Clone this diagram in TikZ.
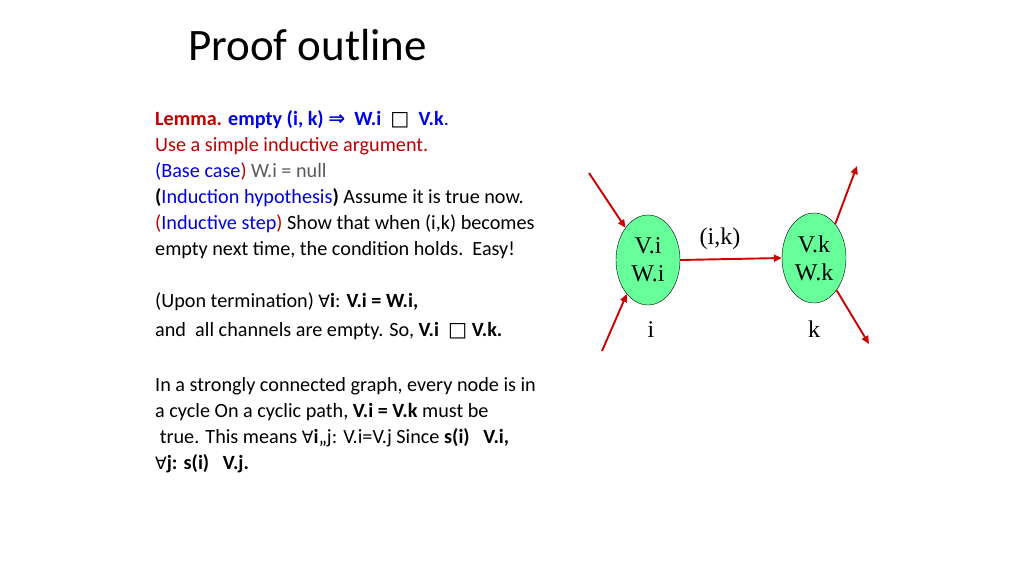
\documentclass[tikz,border=0pt]{standalone}
\usepackage{fontspec}
\setmainfont{Carlito}
\newfontfamily\tms{Liberation Serif}
\newfontfamily\dv{DejaVu Sans}
\usetikzlibrary{shapes.geometric,arrows.meta}
\definecolor{lred}{RGB}{192,0,0}
\definecolor{lblue}{RGB}{0,0,230}
\definecolor{ngreen}{RGB}{102,255,153}
\definecolor{arr}{RGB}{204,0,0}
\definecolor{gry}{RGB}{90,90,90}
\begin{document}
\begin{tikzpicture}[x=1pt,y=-1pt,
  ln/.style={anchor=base west,inner sep=0pt,font=\fontsize{20.2}{22}\selectfont},
  st/.style={ellipse,draw=black,fill=ngreen,minimum width=64pt,minimum height=90pt,inner sep=0pt,align=center,font=\tms\fontsize{24}{28}\selectfont},
  lb/.style={font=\tms\fontsize{24}{26}\selectfont,inner sep=0pt,anchor=base},
  ar/.style={draw=arr,line width=1.9pt,-{Triangle[length=8pt,width=7pt]}}]
\useasboundingbox (0,0) rectangle (1024,576);
\node[anchor=base west,inner sep=0pt,font=\fontsize{45}{48}\selectfont] (title) at (188,60) {Proof outline};
\node[ln] (l1) at (155,125) {\textbf{\color{lred}Lemma. \color{lblue}empty (i, k) {\dv⇒}\ \ W.i \ {\normalfont\dv\color{black}□}\ \ V.k}\color{lblue}.};
\node[ln,text=lred] (l2) at (155,151) {Use a simple inductive argument.};
\node[ln] (l3) at (155,177) {\color{lblue}(Base case\color{lred})\ \color{gry}W.i = null};
\node[ln] (l4) at (155,203) {\textbf{(}\color{lblue}Induction hypothesis\color{black}\textbf{)}\ Assume it is true now.};
\node[ln] (l5) at (155,229) {\color{lred}(\color{lblue}Inductive step\color{lred})\ \color{black}Show that when (i,k) becomes};
\node[ln] (l6) at (155,255) {empty next time, the condition holds.\ \ Easy!};
\node[ln] (l7) at (155,307) {(Upon termination) {\dv\fontsize{17}{19}\selectfont∀}\textbf{i}: \textbf{V.i = W.i,}};
\node[ln] (l8) at (155,336) {and\ \ all channels are empty. So, \textbf{V.i \ {\normalfont\dv□} V.k.}};
\node[ln] (l9) at (155,391) {In a strongly connected graph, every node is in};
\node[ln] (l10) at (155,417) {a cycle On a cyclic path, \textbf{V.i = V.k} must be};
\node[ln] (l11) at (155,443) {\ true. This means {\dv\fontsize{17}{19}\selectfont∀}\textbf{i},,j: V.i=V.j Since \textbf{s(i) \ \ V.i,}};
\node[ln] (l12) at (155,469) {{\dv\fontsize{17}{19}\selectfont∀}\textbf{j: s(i) \ \ V.j.}};
\node[st] (vi) at (648,260) {V.i\\W.i};
\node[st] (vk) at (814,258) {V.k\\W.k};
\node[lb] (ik) at (720,244) {(i,k)};
\node[lb] (li) at (651,337) {i};
\node[lb] (lk) at (814,337) {k};
\coordinate (a1) at (589,173);
\coordinate (a2) at (602,351);
\coordinate (b1) at (857,166);
\coordinate (b2) at (869,344);
\draw[ar] (vi.east) -- (vk.west);
\draw[ar] (a1) -- (vi.125);
\draw[ar] (a2) -- (vi.238);
\draw[ar] (vk.58) -- (b1);
\draw[ar] (vk.-55) -- (b2);
\end{tikzpicture}
\end{document}
